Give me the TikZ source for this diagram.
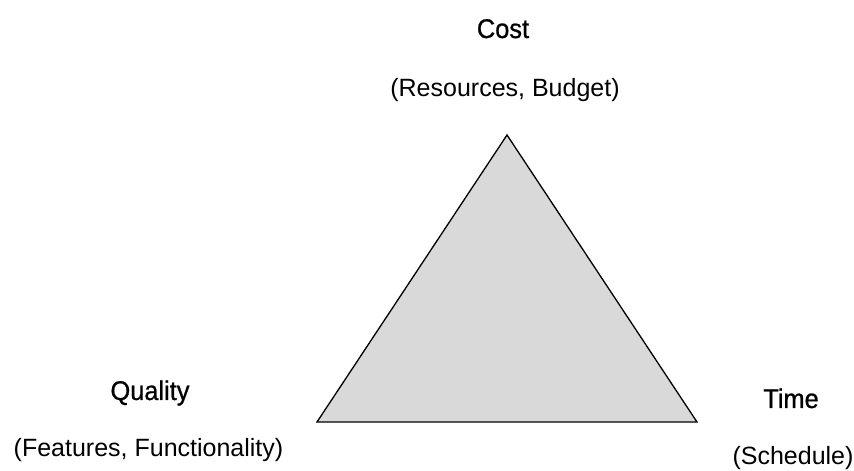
\documentclass[tikz,border=0pt]{standalone}
\usepackage{fontspec}
\setmainfont{Liberation Sans}
\newfontfamily\headfont{Liberation Sans}[FakeStretch=0.94, FakeBold=0.8]
\usepackage{xcolor}
\definecolor{trifill}{HTML}{D9D9D9}

\begin{document}
\begin{tikzpicture}[x=1pt, y=1pt,
        corner/.style={anchor=base, inner sep=0pt, font=\headfont\fontsize{27}{30}\selectfont},
        detail/.style={anchor=base, inner sep=0pt, font=\fontsize{25}{28}\selectfont}]
            \useasboundingbox (0,0) rectangle (854,471);

            % triangle
            \coordinate (top) at (507, 336);
            \coordinate (left) at (317, 49);
            \coordinate (right) at (697, 49);
            \filldraw[fill=trifill, draw=black, line width=1.3pt, line join=miter]
                (top)--(left)--(right)--cycle;

            % corners
            \node[corner] (cost) at (503, 433) {Cost};
            \node[detail] (costsub) at (505, 374) {(Resources, Budget)};

            \node[corner] (quality) at (150, 71) {Quality};
            \node[detail] (qualitysub) at (148.5, 14) {(Features, Functionality)};

            \node[corner] (time) at (791, 63) {Time};
            \node[detail] (timesub) at (793, 6) {(Schedule)};

        \end{tikzpicture}
\end{document}
